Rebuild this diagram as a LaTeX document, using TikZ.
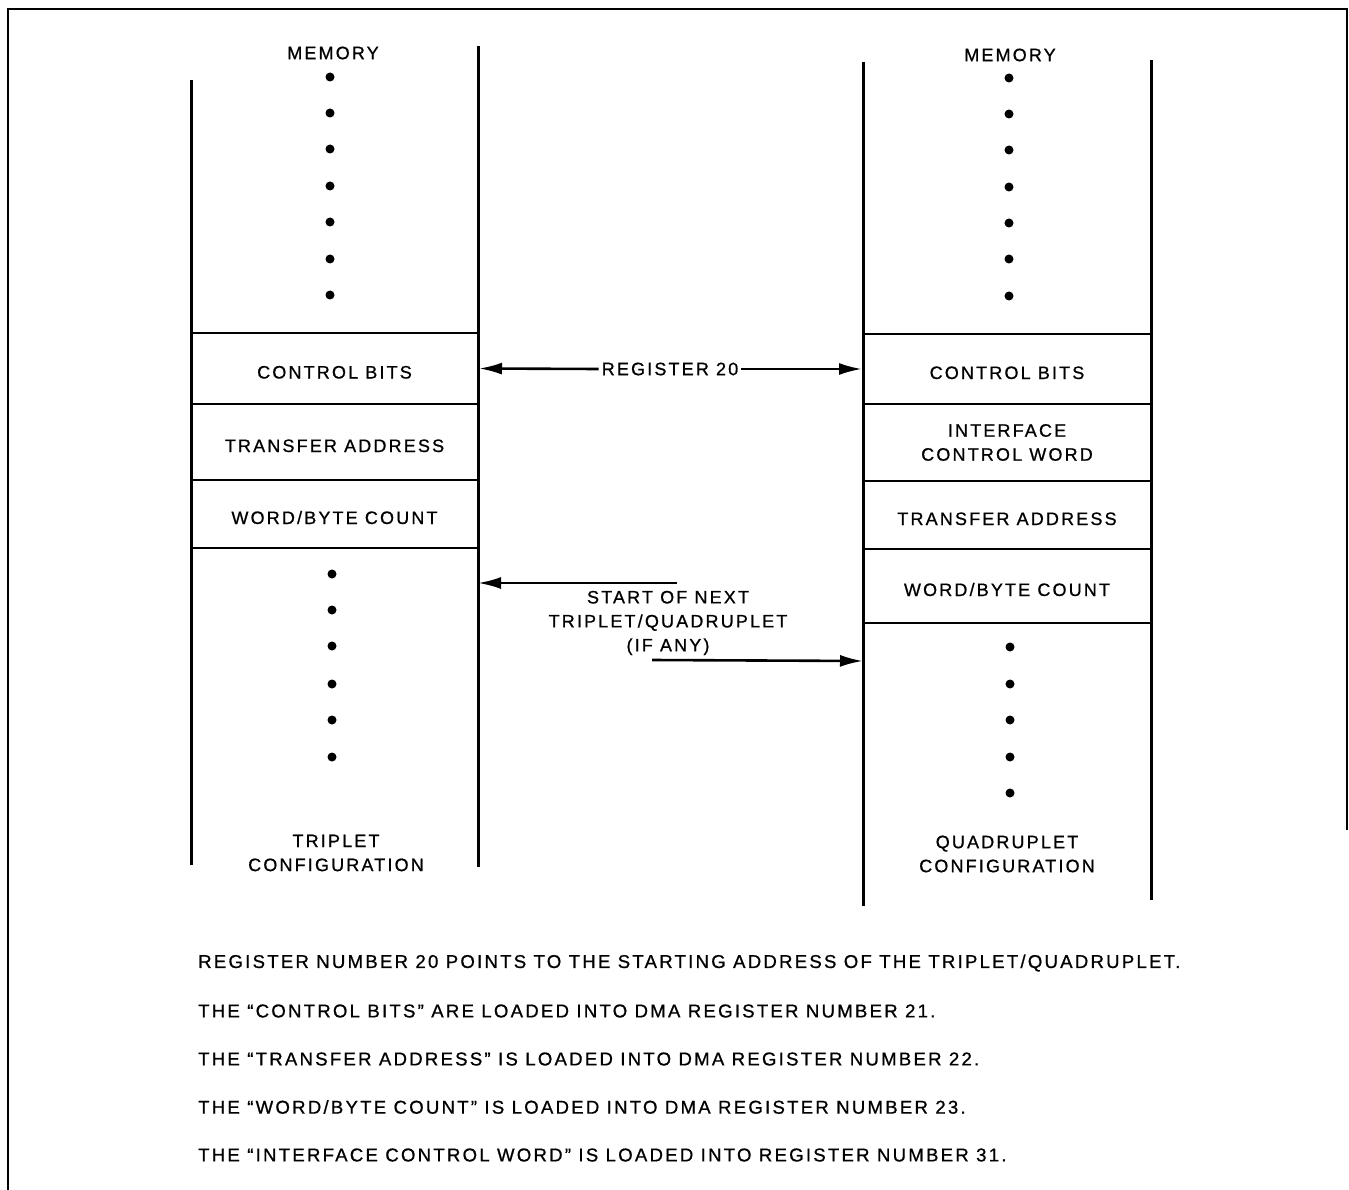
\documentclass[tikz,border=0pt]{standalone}
\usepackage{fontspec}
\setmainfont{Liberation Sans}[LetterSpace=12,FakeBold=0.8]
\usetikzlibrary{arrows.meta}
\begin{document}
\begin{tikzpicture}[x=1pt,y=-1pt,
  lbl/.style={font=\fontsize{18}{24}\selectfont, align=center, inner sep=0pt},
  cell/.style={draw, line width=2pt, minimum width=287pt, inner sep=0pt, lbl},
  one/.style={text height=20pt, text depth=0pt},
  col/.style={line width=3pt},
  dot/.style={circle, fill, minimum size=9pt, inner sep=0pt},
  arr/.style={line width=2.6pt, -{Latex[length=23pt,width=12pt]}},
  note/.style={font=\fontsize{18.6}{20}\selectfont, anchor=west, inner sep=0pt}]
\useasboundingbox (0,0) rectangle (1349,1190);
% frame
\draw[line width=2pt] (8,1190) -- (8,9) -- (1347,9) -- (1347,830);
% left column
\draw[col] (191,80) -- (191,865);
\draw[col] (478,46) -- (478,867);
\node[lbl] (lmem) at (333,53) {MEMORY};
\foreach \y [count=\i] in {77,113,149,186,222,259,295} \node[dot] (lt\i) at (330,\y) {};
\node[cell, one, minimum height=71pt] (lcb) at (334.5,368.5) {CONTROL BITS};
\node[cell, one, minimum height=76pt] (lta) at (334.5,442) {TRANSFER ADDRESS};
\node[cell, one, minimum height=68pt] (lwc) at (334.5,514) {WORD/BYTE COUNT};
\foreach \y [count=\i] in {574,610,646,684,720,757} \node[dot] (lb\i) at (332,\y) {};
\node[lbl] (lcfg) at (336,853) {TRIPLET\\CONFIGURATION};
% right column
\draw[col] (863,62) -- (863,906);
\draw[col] (1151,60) -- (1151,900);
\node[lbl] (rmem) at (1010,55) {MEMORY};
\foreach \y [count=\i] in {78,114,150,187,223,259,296} \node[dot] (rt\i) at (1009,\y) {};
\node[cell, one, minimum width=288pt, minimum height=70pt] (rcb) at (1007,369) {CONTROL BITS};
\node[cell, minimum width=288pt, minimum height=77pt] (ricw) at (1007,442.5) {INTERFACE\\CONTROL WORD};
\node[cell, one, minimum width=288pt, minimum height=68pt] (rta) at (1007,515) {TRANSFER ADDRESS};
\node[cell, one, minimum width=288pt, minimum height=74pt] (rwc) at (1007,586) {WORD/BYTE COUNT};
\foreach \y [count=\i] in {647,684,720,757,793} \node[dot] (rb\i) at (1010,\y) {};
\node[lbl] (rcfg) at (1007,854) {QUADRUPLET\\CONFIGURATION};
% register 20
\node[lbl, fill=white, inner xsep=3pt] (reg) at (670,369) {REGISTER 20};
\draw[arr] (reg.west) -- (lcb.east);
\draw[arr] (reg.east) -- (rcb.west);
% start of next
\node[lbl] (next) at (668,623) {START OF NEXT\\TRIPLET/QUADRUPLET\\(IF ANY)};
\coordinate (n1) at (677,583);
\coordinate (n1e) at (478,583);
\coordinate (n2) at (652,660);
\coordinate (n2e) at (863,661);
\draw[arr] (n1) -- (n1e);
\draw[arr] (n2) -- (n2e);
% notes
\node[note] (t1) at (198,963) {REGISTER NUMBER 20 POINTS TO THE STARTING ADDRESS OF THE TRIPLET/QUADRUPLET.};
\node[note] (t2) at (198,1011) {THE ``CONTROL BITS'' ARE LOADED INTO DMA REGISTER NUMBER 21.};
\node[note] (t3) at (198,1059) {THE ``TRANSFER ADDRESS'' IS LOADED INTO DMA REGISTER NUMBER 22.};
\node[note] (t4) at (198,1107) {THE ``WORD/BYTE COUNT'' IS LOADED INTO DMA REGISTER NUMBER 23.};
\node[note] (t5) at (198,1155) {THE ``INTERFACE CONTROL WORD'' IS LOADED INTO REGISTER NUMBER 31.};
\end{tikzpicture}
\end{document}
